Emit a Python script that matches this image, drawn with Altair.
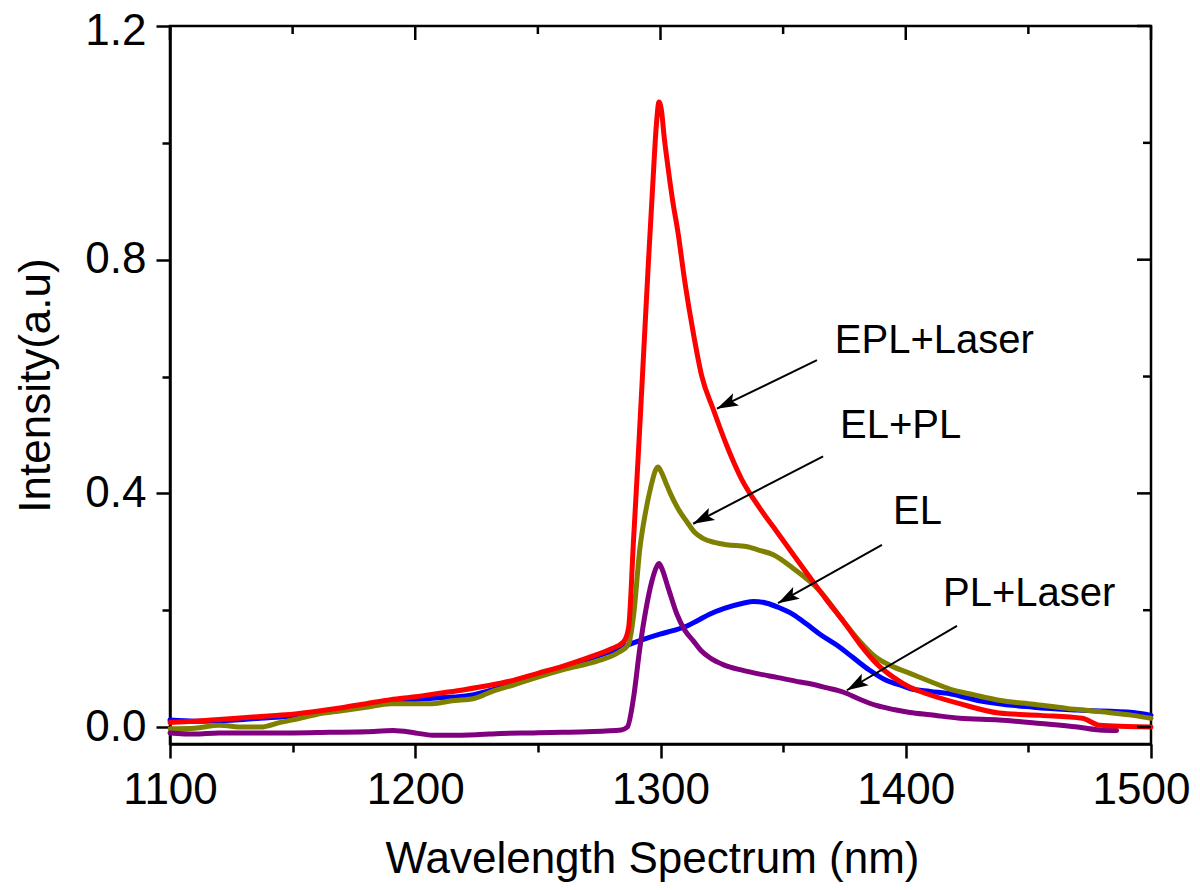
import math
import altair as alt
import pandas as pd

# ---------------- data ----------------
epl_x = [1100, 1110, 1120, 1130, 1140, 1150, 1160, 1170, 1180, 1190, 1200, 1210, 1220, 1230,
         1240, 1250, 1260, 1270, 1280, 1285, 1287, 1289, 1291, 1293, 1295, 1297, 1298.3,
         1299.4, 1300.4, 1301.5, 1303, 1305, 1307, 1310, 1313.4, 1316.8, 1321.5, 1327, 1333,
         1340.6, 1347.5, 1354.2, 1362, 1368, 1374.4, 1381.3, 1388, 1395, 1401.7, 1408.5,
         1422, 1438, 1455, 1472, 1479, 1490, 1500]
epl_y = [0.008, 0.010, 0.013, 0.016, 0.019, 0.022, 0.027, 0.033, 0.040, 0.047, 0.052, 0.058,
         0.064, 0.071, 0.080, 0.092, 0.104, 0.118, 0.134, 0.146, 0.17, 0.32, 0.47, 0.63, 0.79,
         0.94, 1.03, 1.07, 1.055, 1.01, 0.96, 0.90, 0.85, 0.76, 0.674, 0.601, 0.544, 0.482,
         0.425, 0.374, 0.334, 0.295, 0.250, 0.216, 0.182, 0.142, 0.109, 0.085, 0.068, 0.057,
         0.040, 0.024, 0.020, 0.015, 0.003, 0.001, 0.0]

elpl_x = [1100, 1110, 1120, 1130, 1137, 1145, 1153, 1160, 1170, 1180, 1190, 1200, 1207, 1215,
          1224, 1232, 1240, 1248, 1260, 1275, 1283, 1287, 1289, 1291.6, 1294, 1296, 1298, 1299,
          1300.5, 1302, 1304, 1307, 1310.8, 1314, 1317.3, 1322, 1327, 1335, 1340, 1346, 1354,
          1365, 1374.4, 1381, 1388, 1395, 1401.7, 1410, 1418, 1428, 1438, 1452, 1465.7, 1480,
          1492.7, 1500]
elpl_y = [-0.003, -0.002, 0.003, 0.000, 0.000, 0.008, 0.015, 0.022, 0.028, 0.034, 0.040, 0.040,
          0.040, 0.045, 0.049, 0.062, 0.072, 0.083, 0.098, 0.114, 0.128, 0.142, 0.19, 0.306,
          0.37, 0.41, 0.44, 0.445, 0.435, 0.42, 0.40, 0.375, 0.351, 0.333, 0.323, 0.316, 0.312,
          0.309, 0.303, 0.295, 0.272, 0.233, 0.182, 0.148, 0.119, 0.103, 0.092, 0.078, 0.065,
          0.055, 0.046, 0.039, 0.032, 0.026, 0.020, 0.015]

el_x = [1100, 1110, 1120, 1130, 1140, 1150, 1160, 1170, 1180, 1190, 1200, 1210, 1222, 1235,
        1250, 1260, 1269, 1280, 1287.6, 1293, 1299.8, 1305, 1310.8, 1315, 1320, 1326, 1333.6,
        1338, 1343.4, 1348, 1354, 1360, 1365, 1372, 1378.5, 1385, 1392, 1397.6, 1401.7, 1410,
        1418, 1430, 1452, 1470, 1492.7, 1500]
el_y = [0.012, 0.010, 0.011, 0.013, 0.016, 0.019, 0.024, 0.030, 0.037, 0.043, 0.047, 0.050,
        0.054, 0.068, 0.088, 0.102, 0.114, 0.130, 0.142, 0.150, 0.159, 0.165, 0.173, 0.182,
        0.193, 0.203, 0.212, 0.215, 0.212, 0.205, 0.193, 0.175, 0.159, 0.140, 0.119, 0.098,
        0.080, 0.072, 0.066, 0.061, 0.057, 0.045, 0.034, 0.029, 0.025, 0.020]

pll_x = [1100, 1110, 1120, 1135, 1150, 1165, 1180, 1191, 1200, 1207, 1214, 1225, 1235, 1248,
         1260, 1270, 1284, 1286.5, 1289, 1291.6, 1294, 1296.5, 1298.5, 1299.4, 1300.5, 1303,
         1306.7, 1310, 1313.3, 1316.5, 1320, 1326, 1333.6, 1340, 1347.5, 1356.9, 1361, 1368,
         1374.4, 1381, 1388, 1395, 1401.7, 1410, 1422, 1438, 1455, 1470, 1479, 1486]
pll_y = [-0.010, -0.012, -0.010, -0.010, -0.010, -0.009, -0.008, -0.006, -0.010, -0.014,
         -0.014, -0.013, -0.011, -0.010, -0.009, -0.008, -0.005, 0.000, 0.05, 0.136, 0.20,
         0.25, 0.275, 0.28, 0.272, 0.24, 0.193, 0.165, 0.148, 0.131, 0.119, 0.106, 0.097,
         0.091, 0.085, 0.077, 0.074, 0.067, 0.060, 0.048, 0.037, 0.030, 0.025, 0.021, 0.015,
         0.012, 0.006, 0.000, -0.005, -0.006]

# annotation arrows (data units) and their labels
ann_label = ["EPL+Laser", "EL+PL", "EL", "PL+Laser"]
ann_x1 = [1363.8, 1366.3, 1390.3, 1420.9]
ann_y1 = [0.628, 0.4635, 0.312, 0.173]
ann_x2 = [1323.0, 1313.3, 1347.9, 1376.0]
ann_y2 = [0.545, 0.348, 0.212, 0.063]
ann_tx = [1371.1, 1373.2, 1394.8, 1415.2]
ann_ty = [0.660, 0.516, 0.368, 0.2275]

x_ticks = [1100, 1150, 1200, 1250, 1300, 1350, 1400, 1450, 1500]
y_ticks = [0.0, 0.2, 0.4, 0.6, 0.8, 1.0, 1.2]
x_major = [1100, 1200, 1300, 1400, 1500]
x_minor = [1150, 1250, 1350, 1450]
y_major = [0.0, 0.4, 0.8, 1.2]
y_minor = [0.2, 0.6, 1.0]

# ---------------- chart ----------------
W, H = 981, 718
X_DOM = [1100, 1500]
Y_DOM = [-0.029, 1.2]
FONT = "Liberation Sans"

xs = alt.Scale(domain=X_DOM, nice=False, zero=False)
ys = alt.Scale(domain=Y_DOM, nice=False, zero=False)

x_axis = alt.Axis(
    values=x_ticks, format="d",
    labelExpr="datum.value % 100 === 0 ? datum.label : ''",
    tickSize={"condition": {"test": "datum.value % 100 === 0", "value": 14}, "value": 8},
    labelOffset={"condition": {"test": "datum.value >= 1500", "value": -10}, "value": 0},
    labelFlush=False, labelOverlap=False, grid=False,
    labelPadding=10, labelFontSize=44, labelFont=FONT, labelColor="black",
    title="Wavelength Spectrum (nm)", titleFontSize=44, titleFont=FONT,
    titleFontWeight="normal", titleColor="black", titleX=482, titleY=128,
    titleBaseline="alphabetic",
    domainColor="black", domainWidth=2.5, tickColor="black", tickWidth=2.5,
)
y_axis = alt.Axis(
    values=y_ticks, format=".1f",
    labelExpr="round(datum.value * 10) % 4 === 0 ? datum.label : ''",
    tickSize={"condition": {"test": "round(datum.value * 10) % 4 === 0", "value": 14}, "value": 8},
    labelOffset={"condition": {"test": "datum.value > 1.1", "value": 5}, "value": 0},
    labelOverlap=False, grid=False,
    labelPadding=10, labelFontSize=44, labelFont=FONT, labelColor="black",
    title="Intensity(a.u)", titleFontSize=44, titleFont=FONT,
    titleFontWeight="normal", titleColor="black", titleX=-121, titleY=H / 2,
    titleAngle=270, titleBaseline="alphabetic",
    domainColor="black", domainWidth=2.5, tickColor="black", tickWidth=2.5,
)


def X(field):
    return alt.X(field, scale=xs, axis=x_axis)


def Y(field):
    return alt.Y(field, scale=ys, axis=y_axis)


def line(xv, yv, color):
    return alt.Chart(pd.DataFrame({"x": xv, "y": yv})).mark_line(
        color=color, strokeWidth=5, strokeJoin="round", strokeCap="round",
        interpolate="monotone"
    ).encode(x=X("x:Q"), y=Y("y:Q"))


l_el = line(el_x, el_y, "#0000ff")
l_elpl = line(elpl_x, elpl_y, "#808000")
l_pll = line(pll_x, pll_y, "#800080")
l_epl = line(epl_x, epl_y, "#ff0000")

# arrows
px_per_x = W / (X_DOM[1] - X_DOM[0])
px_per_y = H / (Y_DOM[1] - Y_DOM[0])
angles = []
for a, b, c, d in zip(ann_x1, ann_y1, ann_x2, ann_y2):
    dx = (c - a) * px_per_x
    dy = -(d - b) * px_per_y
    angles.append(math.degrees(math.atan2(dy, dx)) % 360)

ann = pd.DataFrame({"label": ann_label, "x1": ann_x1, "y1": ann_y1, "x2": ann_x2,
                    "y2": ann_y2, "tx": ann_tx, "ty": ann_ty, "ang": angles})

arrow_lines = alt.Chart(ann).mark_rule(color="black", strokeWidth=2).encode(
    x=X("x1:Q"), y=Y("y1:Q"), x2="x2:Q", y2="y2:Q")
arrow_heads = alt.Chart(ann).mark_point(
    shape="M0,0L-1.9,-0.6L-1.5,0L-1.9,0.6Z", filled=True, color="black",
    opacity=1, size=500, strokeWidth=0
).encode(x=X("x2:Q"), y=Y("y2:Q"), angle=alt.Angle("ang:Q", scale=None))
ann_text = alt.Chart(ann).mark_text(
    align="left", baseline="middle", fontSize=40, font=FONT, color="black"
).encode(x=X("tx:Q"), y=Y("ty:Q"), text="label:N")

# inward ticks on the top and right frame
tx_major = alt.Chart(pd.DataFrame({"v": x_major})).mark_rule(color="black", strokeWidth=2.5).encode(
    x=X("v:Q"), y=alt.value(0), y2=alt.value(14))
tx_minor = alt.Chart(pd.DataFrame({"v": x_minor})).mark_rule(color="black", strokeWidth=2.5).encode(
    x=X("v:Q"), y=alt.value(0), y2=alt.value(8))
ty_major = alt.Chart(pd.DataFrame({"v": y_major})).mark_rule(color="black", strokeWidth=2.5).encode(
    y=Y("v:Q"), x=alt.value(W), x2=alt.value(W - 14))
ty_minor = alt.Chart(pd.DataFrame({"v": y_minor})).mark_rule(color="black", strokeWidth=2.5).encode(
    y=Y("v:Q"), x=alt.value(W), x2=alt.value(W - 8))

chart = alt.layer(
    l_el, l_elpl, l_pll, l_epl,
    arrow_lines, arrow_heads, ann_text,
    tx_major, tx_minor, ty_major, ty_minor,
).properties(
    width=W, height=H,
    autosize=alt.AutoSizeParams(type="none"),
    padding={"left": 162, "top": 18, "right": 41, "bottom": 138},
    background="white",
).configure_view(stroke="black", strokeWidth=2.5)

chart.save("out.html", embed_options={"renderer": "svg", "actions": False})
